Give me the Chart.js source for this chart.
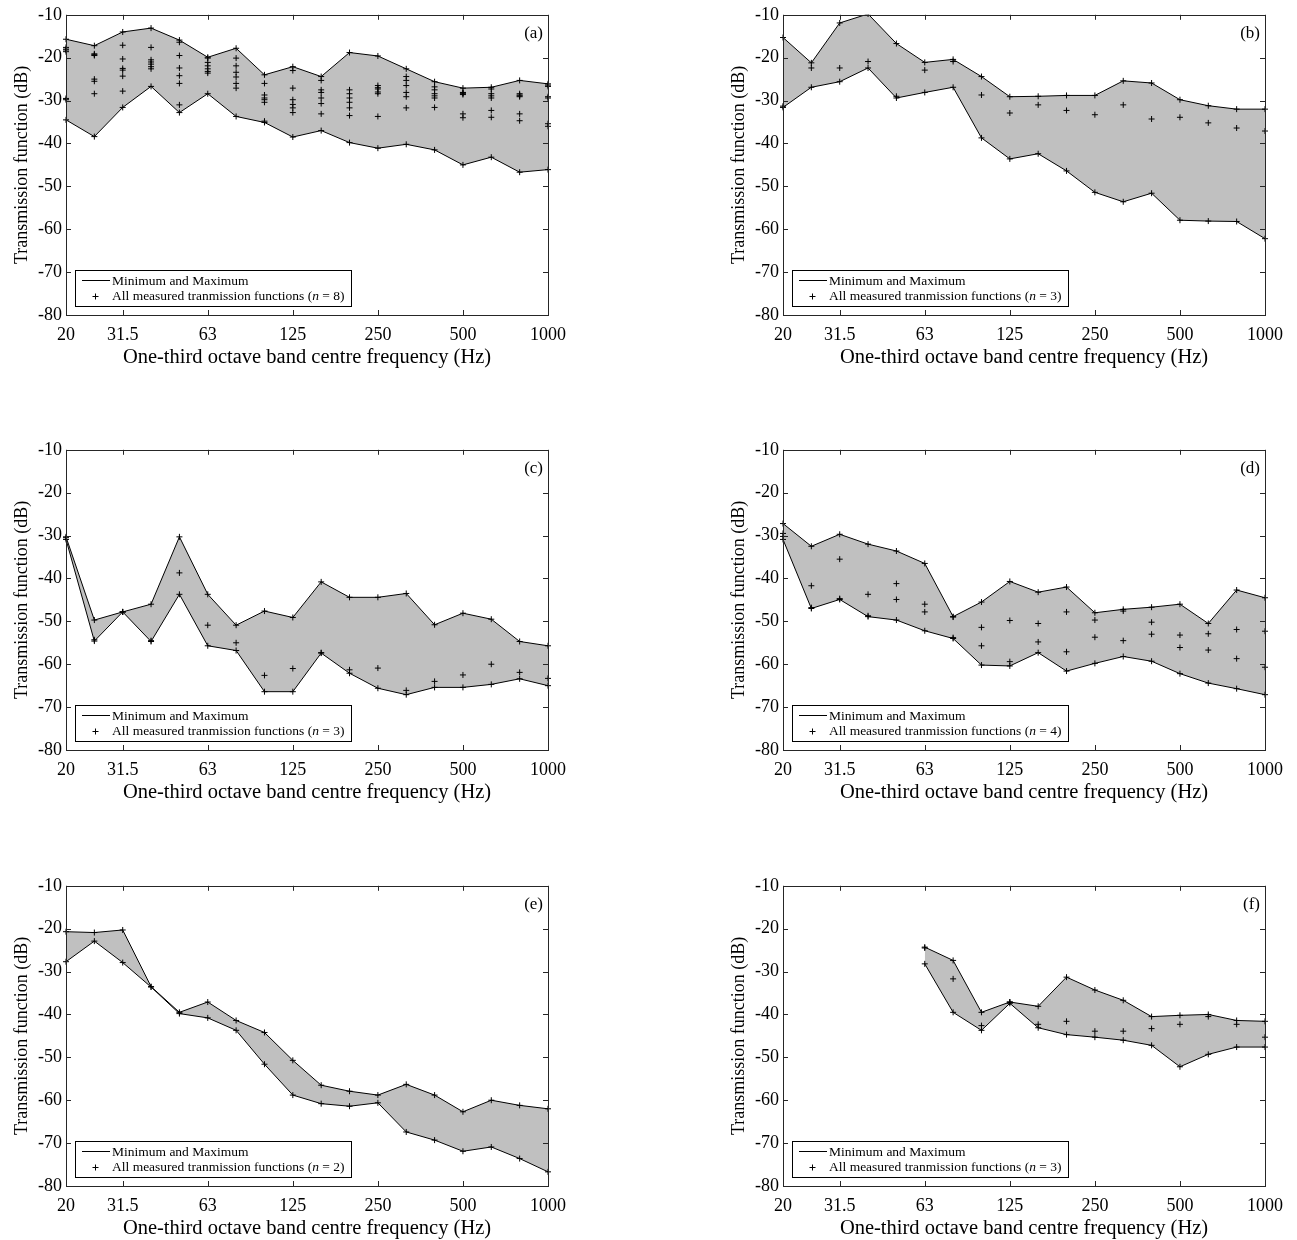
<!DOCTYPE html>
<html>
<head>
<meta charset="utf-8">
<script src="https://cdn.jsdelivr.net/npm/chart.js@4.4.1/dist/chart.umd.min.js"></script>
<style>
  body { margin: 0; background: #fff; width: 1297px; height: 1240px; position: relative; overflow: hidden; }
  canvas { position: absolute; }
</style>
</head>
<body>
<script>
// one-third octave bands and the labelled ones
const bands = ["20","25","31.5","40","50","63","80","100","125","160","200","250","315","400","500","630","800","1000"];
const tickBands = ["20","31.5","63","125","250","500","1000"];
const yTicks = [-10, -20, -30, -40, -50, -60, -70, -80];

// (a) n = 8
const aMax = [-15.7,-17.2,-14.0,-13.1,-15.9,-19.9,-17.8,-24.0,-22.1,-24.4,-18.8,-19.6,-22.6,-25.6,-27.1,-26.9,-25.3,-26.1];
const aMin = [-34.5,-38.4,-31.6,-26.7,-32.8,-28.4,-33.7,-35.1,-38.5,-37.0,-39.8,-41.1,-40.2,-41.5,-45.0,-43.2,-46.7,-46.1];
const aAll = [
  [-17.6,-18.2,-18.6,-18.0,-29.8,-29.5],
  [-19.1,-19.3,-19.5,-25.0,-25.5,-28.4],
  [-17.1,-20.3,-22.5,-22.9,-24.3,-27.8],
  [-17.6,-20.5,-21.0,-21.5,-22.1,-22.6],
  [-16.4,-19.5,-22.4,-24.2,-26.0,-31.0],
  [-20.1,-21.1,-21.9,-22.6,-23.2,-23.6],
  [-20.1,-21.9,-23.4,-24.5,-26.0,-27.1],
  [-26.0,-28.7,-29.4,-29.8,-30.4,-34.8],
  [-23.0,-27.1,-29.8,-30.9,-31.7,-32.8],
  [-25.3,-27.5,-28.1,-29.4,-30.7,-33.1],
  [-27.5,-28.4,-29.4,-30.4,-31.7,-33.5],
  [-26.5,-27.0,-27.3,-28.0,-28.4,-33.7],
  [-24.4,-25.3,-26.5,-28.1,-29.1,-31.7],
  [-26.8,-27.5,-28.4,-28.9,-29.4,-31.6],
  [-28.1,-28.2,-28.4,-28.6,-33.1,-34.0],
  [-27.3,-28.4,-28.9,-29.4,-32.3,-33.9],
  [-28.4,-28.7,-28.9,-29.1,-33.1,-34.7],
  [-26.4,-26.7,-29.1,-29.4,-35.4,-36.0]
];

// (b) n = 3
const bMax = [-15.3,-21.2,-11.9,-9.8,-16.7,-21.1,-20.4,-24.4,-29.1,-29.0,-28.8,-28.8,-25.4,-25.9,-29.8,-31.2,-32.0,-32.0];
const bMin = [-31.6,-26.9,-25.6,-22.4,-29.4,-28.1,-26.9,-38.7,-43.6,-42.4,-46.4,-51.4,-53.6,-51.6,-57.9,-58.1,-58.2,-62.2];
const bAll = [[-31.3],[-22.4],[-22.4],[-20.9],[-29.0],[-22.9],[-20.9],[-28.7],[-32.9],[-31.0],[-32.3],[-33.3],[-31.0],[-34.3],[-33.9],[-35.2],[-36.4],[-37.1]];

// (c) n = 3
const cMax = [-30.3,-49.7,-47.8,-46.0,-30.3,-43.7,-50.9,-47.6,-49.1,-40.8,-44.4,-44.4,-43.5,-50.8,-48.1,-49.5,-54.7,-55.7];
const cMin = [-30.9,-54.6,-47.8,-54.7,-43.7,-55.7,-56.8,-66.4,-66.4,-57.4,-62.1,-65.6,-67.1,-65.4,-65.4,-64.7,-63.4,-65.0];
const cAll = [[-30.5],[-54.3],[-47.8],[-54.5],[-38.7],[-50.9],[-55.0],[-62.6],[-61.0],[-57.3],[-61.3],[-60.9],[-66.1],[-64.0],[-62.5],[-60.0],[-61.9],[-63.3]];

// (d) n = 4
const dMax = [-27.2,-32.5,-29.7,-32.0,-33.6,-36.5,-48.9,-45.5,-40.7,-43.2,-42.0,-48.0,-47.2,-46.7,-46.0,-50.5,-42.7,-44.5];
const dMin = [-30.9,-47.0,-44.9,-48.9,-49.7,-52.2,-54.0,-60.2,-60.4,-57.3,-61.6,-59.8,-58.2,-59.3,-62.2,-64.4,-65.7,-67.1];
const dAll = [
  [-29.5,-30.2],[-41.7,-46.8],[-35.5,-44.7],[-43.7,-48.7],[-41.2,-44.9],[-46.0,-47.8],
  [-49.0,-53.8],[-51.4,-55.7],[-49.8,-59.4],[-50.5,-54.8],[-47.8,-57.1],[-49.7,-53.7],
  [-47.6,-54.5],[-50.2,-53.0],[-53.2,-56.1],[-52.9,-56.7],[-51.9,-58.7],[-52.3,-60.7]
];

// (e) n = 2
const eMax = [-20.7,-20.9,-20.3,-33.5,-39.5,-37.1,-41.4,-44.2,-50.7,-56.5,-57.9,-58.8,-56.3,-58.8,-62.7,-60.0,-61.2,-62.0];
const eMin = [-27.7,-22.9,-27.9,-33.6,-39.8,-40.8,-43.7,-51.6,-58.8,-60.8,-61.4,-60.6,-67.4,-69.3,-71.9,-70.9,-73.6,-76.7];
const eAll = [];

// (f) n = 3, no data below 63 Hz
const fMax = [null,null,null,null,null,-24.3,-27.4,-39.5,-37.1,-38.1,-31.3,-34.3,-36.7,-40.5,-40.2,-40.0,-41.4,-41.6];
const fMin = [null,null,null,null,null,-28.2,-39.5,-43.7,-37.4,-43.1,-44.7,-45.3,-46.0,-47.2,-52.2,-49.3,-47.6,-47.6];
const fAll = [[],[],[],[],[],[-24.5],[-31.7],[-42.6],[-37.1],[-42.3],[-41.6],[-43.9],[-43.9],[-43.3],[-42.3],[-40.5],[-42.3],[-45.3]];

const serif = "'Liberation Serif', 'DejaVu Serif', serif";

// frame, inward ticks, panel letter and legend box
const framePlugin = {
  id: 'frame',
  afterDatasetsDraw(chart, args, opts) {
    const {ctx, chartArea: a, scales: {x, y}} = chart;
    ctx.save();
    ctx.strokeStyle = '#262626';
    ctx.lineWidth = 1;
    ctx.beginPath();
    tickBands.forEach(b => {
      const px = Math.round(x.getPixelForValue(bands.indexOf(b))) + 0.5;
      ctx.moveTo(px, a.bottom); ctx.lineTo(px, a.bottom - 5);
      ctx.moveTo(px, a.top); ctx.lineTo(px, a.top + 5);
    });
    yTicks.forEach(v => {
      const py = Math.round(y.getPixelForValue(v)) + 0.5;
      ctx.moveTo(a.left, py); ctx.lineTo(a.left + 5, py);
      ctx.moveTo(a.right, py); ctx.lineTo(a.right - 5, py);
    });
    ctx.stroke();
    ctx.strokeRect(Math.round(a.left) + 0.5, Math.round(a.top) + 0.5, Math.round(a.right - a.left), Math.round(a.bottom - a.top));

    // panel letter
    ctx.fillStyle = '#000';
    ctx.font = '17px ' + serif;
    ctx.textAlign = 'right';
    ctx.textBaseline = 'middle';
    ctx.fillText(opts.letter, a.right - 5, a.top + 19);

    // legend
    const bx = a.left + 9, by = a.bottom - 45, bw = 276, bh = 36;
    ctx.fillStyle = '#fff';
    ctx.fillRect(bx, by, bw, bh);
    ctx.strokeStyle = '#000';
    ctx.strokeRect(bx + 0.5, by + 0.5, bw, bh);
    ctx.beginPath();
    ctx.moveTo(a.left + 16, by + 10.5); ctx.lineTo(a.left + 44, by + 10.5);
    const cx = a.left + 29.5, cy = by + 26.5;
    ctx.moveTo(cx - 3, cy); ctx.lineTo(cx + 3, cy);
    ctx.moveTo(cx, cy - 3); ctx.lineTo(cx, cy + 3);
    ctx.stroke();
    ctx.fillStyle = '#000';
    ctx.textAlign = 'left';
    ctx.font = '13.5px ' + serif;
    ctx.fillText('Minimum and Maximum', a.left + 46, by + 11);
    let tx = a.left + 46;
    const t1 = 'All measured tranmission functions (';
    ctx.fillText(t1, tx, cy);
    tx += ctx.measureText(t1).width;
    ctx.font = 'italic 13.5px ' + serif;
    ctx.fillText('n', tx, cy);
    tx += ctx.measureText('n').width;
    ctx.font = '13.5px ' + serif;
    ctx.fillText(' = ' + opts.n + ')', tx, cy);
    ctx.restore();
  }
};

function makePanel(left, top, letter, n, maxV, minV, allV) {
  const canvas = document.createElement('canvas');
  canvas.width = 575; canvas.height = 372;
  canvas.style.left = left + 'px';
  canvas.style.top = top + 'px';
  document.body.appendChild(canvas);

  const scatter = [];
  allV.forEach((vals, i) => vals.forEach(v => scatter.push({x: bands[i], y: v})));

  const lineStyle = {
    borderColor: '#000', borderWidth: 1,
    pointStyle: 'cross', pointRadius: 3, pointBorderColor: '#000', pointBorderWidth: 1,
    pointHoverRadius: 3, tension: 0
  };

  new Chart(canvas, {
    type: 'line',
    data: {
      labels: bands,
      datasets: [
        Object.assign({label: 'max', data: maxV, fill: '+1', backgroundColor: '#c0c0c0'}, lineStyle),
        Object.assign({label: 'min', data: minV, fill: false}, lineStyle),
        {label: 'all', data: scatter, showLine: false, pointStyle: 'cross', pointRadius: 3,
         pointBorderColor: '#000', pointBorderWidth: 1, borderColor: '#000'}
      ]
    },
    options: {
      responsive: false,
      animation: false,
      events: [],
      layout: {padding: {top: 14, right: 10, left: 0, bottom: 0}},
      plugins: {
        legend: {display: false},
        tooltip: {enabled: false},
        filler: {drawTime: 'beforeDatasetsDraw'},
        frame: {letter: letter, n: n}
      },
      scales: {
        x: {
          type: 'category',
          offset: false,
          grid: {display: false, drawTicks: false},
          border: {display: false},
          ticks: {
            autoSkip: false, maxRotation: 0, padding: 9, color: '#000',
            font: {family: serif, size: 18},
            callback: (v, i) => tickBands.includes(bands[i]) ? bands[i] : null
          },
          title: {display: true, text: 'One-third octave band centre frequency (Hz)', color: '#000',
                  font: {family: serif, size: 20.5}, padding: {top: 0, bottom: 2}},
          afterFit: s => { s.height = 57; }
        },
        y: {
          min: -80, max: -10,
          grid: {display: false, drawTicks: false},
          border: {display: false},
          afterBuildTicks: s => { s.ticks = yTicks.map(v => ({value: v})); },
          ticks: {padding: 4, color: '#000', font: {family: serif, size: 18}},
          title: {display: true, text: 'Transmission function (dB)', color: '#000',
                  font: {family: serif, size: 18}, padding: {top: 11, bottom: 0}},
          afterFit: s => { s.width = 66; }
        }
      }
    },
    plugins: [framePlugin]
  });
}

makePanel(0, 0, '(a)', 8, aMax, aMin, aAll);
makePanel(717, 0, '(b)', 3, bMax, bMin, bAll);
makePanel(0, 435, '(c)', 3, cMax, cMin, cAll);
makePanel(717, 435, '(d)', 4, dMax, dMin, dAll);
makePanel(0, 871, '(e)', 2, eMax, eMin, eAll);
makePanel(717, 871, '(f)', 3, fMax, fMin, fAll);
</script>
</body>
</html>
